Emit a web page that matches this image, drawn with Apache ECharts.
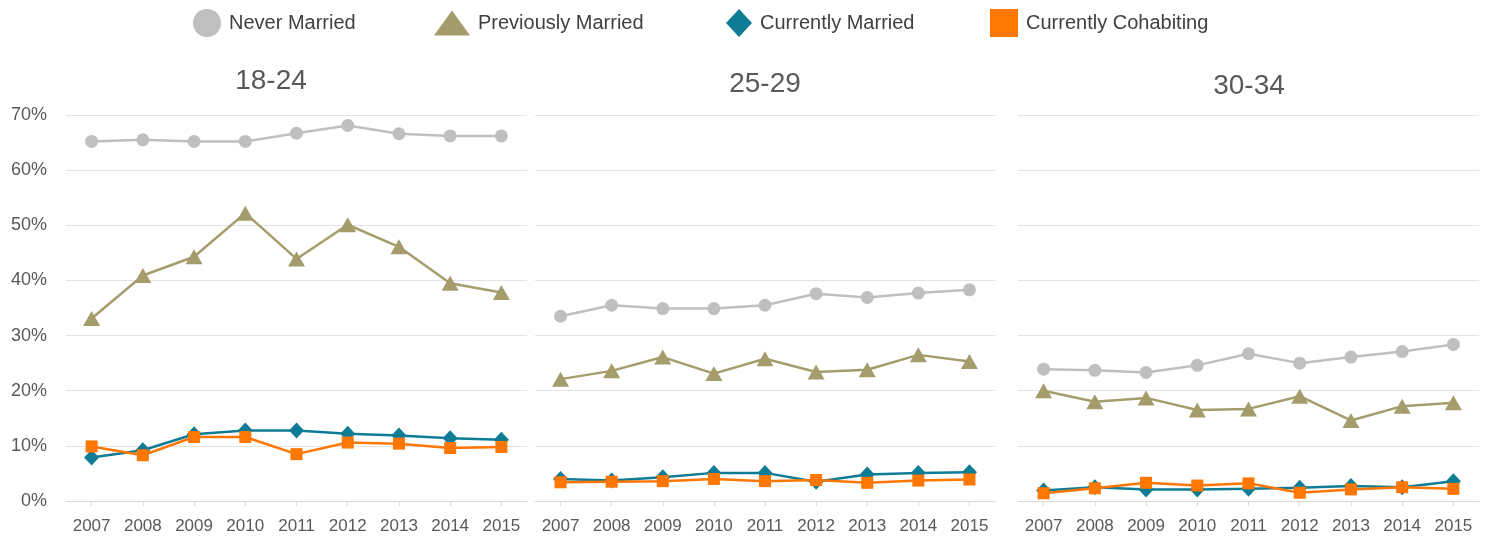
<!DOCTYPE html>
<html>
<head>
<meta charset="utf-8">
<script src="https://cdn.jsdelivr.net/npm/echarts@6/dist/echarts.min.js"></script>
<style>html,body{margin:0;padding:0;background:#fff}#c{width:1488px;height:540px}</style>
</head>
<body>
<div id="c"></div>
<script>
const years = ['2007','2008','2009','2010','2011','2012','2013','2014','2015'];
const panels = ['18-24','25-29','30-34'];
const seriesNames = ['Never Married','Previously Married','Currently Married','Currently Cohabiting'];
const yTicks = [0,10,20,30,40,50,60,70];

// values in percent, per panel
const never18 = [65.2,65.5,65.2,65.2,66.7,68.1,66.6,66.2,66.2];
const prev18  = [33.1,40.9,44.3,52.2,43.9,50.1,46.1,39.5,37.8];
const marr18  = [7.9,9.2,12.1,12.8,12.8,12.2,11.9,11.4,11.1];
const cohab18 = [9.9,8.3,11.6,11.6,8.5,10.6,10.4,9.6,9.8];

const never25 = [33.5,35.5,34.9,34.9,35.5,37.6,36.9,37.7,38.3];
const prev25  = [22.1,23.6,26.1,23.1,25.8,23.4,23.8,26.5,25.3];
const marr25  = [4.0,3.7,4.3,5.1,5.1,3.5,4.8,5.1,5.2];
const cohab25 = [3.4,3.5,3.6,4.0,3.6,3.8,3.3,3.7,3.9];

const never30 = [23.9,23.7,23.3,24.6,26.7,25.0,26.1,27.1,28.4];
const prev30  = [20.0,18.0,18.7,16.5,16.7,19.0,14.6,17.2,17.8];
const marr30  = [1.9,2.5,2.1,2.1,2.2,2.4,2.7,2.5,3.6];
const cohab30 = [1.4,2.3,3.3,2.8,3.2,1.5,2.1,2.5,2.2];

const panelData = [
  [never18, prev18, marr18, cohab18],
  [never25, prev25, marr25, cohab25],
  [never30, prev30, marr30, cohab30]
];

const colors = ['#bfbfbf','#a59c6c','#0e7c95','#ff7600'];
const symbols = ['circle','triangle','diamond','rect'];
const symSizes = [13,[17,15],[15,16],12];
const legendIconSize = [[28,28],[36,25],[26,28],[28,28]];
const legendLeft = [193,434,726,990];

const gridLeft = [66,535,1018];
const gridWidth = [461,460,461];
const titleX = [271,765,1249];
const titleY = [81,84,86];
const FONT = "'Liberation Sans', Arial, sans-serif";

const grids = [], xAxes = [], yAxes = [], series = [], legends = [], graphics = [];
for (let p = 0; p < 3; p++) {
  grids.push({left: gridLeft[p], width: gridWidth[p], top: 115, bottom: 39, containLabel: false});
  xAxes.push({
    type: 'category', gridIndex: p, data: years, boundaryGap: true,
    axisLine: {show: true, lineStyle: {color: '#d9d9d9', width: 1}},
    axisTick: {show: true, alignWithLabel: true, interval: 0, length: 5, lineStyle: {color: '#d9d9d9'}},
    axisLabel: {color: '#595959', fontSize: 17, fontFamily: FONT, margin: 17, interval: 0, hideOverlap: false}
  });
  yAxes.push({
    type: 'value', gridIndex: p, min: 0, max: 70, interval: 10,
    axisLine: {show: false}, axisTick: {show: false},
    splitLine: {show: true, lineStyle: {color: '#e3e3e3', width: 1}},
    axisLabel: {show: p === 0, color: '#595959', fontSize: 18, fontFamily: FONT, margin: 19,
      formatter: v => v + '%'}
  });
  for (let s = 0; s < 4; s++) {
    series.push({
      name: seriesNames[s], type: 'line', xAxisIndex: p, yAxisIndex: p,
      data: panelData[p][s], symbol: symbols[s], symbolSize: symSizes[s],
      showAllSymbol: true, animation: false, z: 2 + s,
      lineStyle: {color: colors[s], width: 2.5},
      itemStyle: {color: colors[s], borderWidth: 0}
    });
  }
  graphics.push({
    type: 'text', x: titleX[p], y: titleY[p],
    style: {text: panels[p], fill: '#595959', font: "28px " + FONT, textAlign: 'center', textVerticalAlign: 'middle'}
  });
}
for (let s = 0; s < 4; s++) {
  legends.push({
    data: [{name: seriesNames[s], icon: symbols[s]}],
    left: legendLeft[s], top: 23 - legendIconSize[s][1] / 2,
    itemWidth: legendIconSize[s][0], itemHeight: legendIconSize[s][1],
    orient: 'horizontal', padding: 0, itemGap: 0,
    textStyle: {color: '#404040', fontSize: 20, fontFamily: FONT, padding: [0, 0, 0, 3]},
    selectedMode: false
  });
}

const chart = echarts.init(document.getElementById('c'), null, {renderer: 'canvas'});
chart.setOption({
  backgroundColor: '#ffffff',
  animation: false,
  grid: grids, xAxis: xAxes, yAxis: yAxes, series: series,
  legend: legends, graphic: graphics
});
</script>
</body>
</html>
